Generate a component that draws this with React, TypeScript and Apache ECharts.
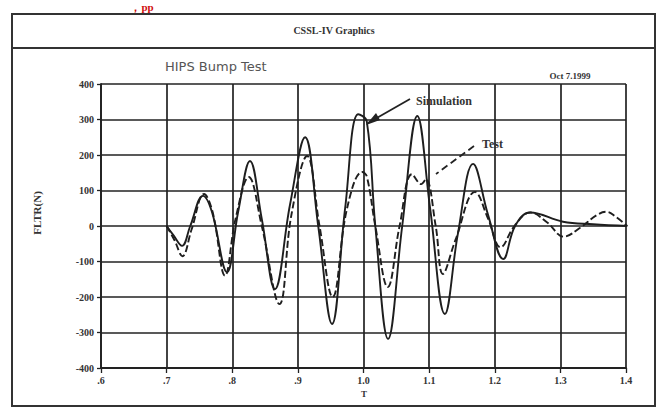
import React, { useEffect, useRef } from "react";
import * as echarts from "echarts";

const simT = [0.700, 0.710, 0.7235, 0.736, 0.7555, 0.769, 0.792, 0.809, 0.827, 0.845, 0.865, 0.888, 0.911, 0.931, 0.952, 0.972, 0.992, 1.005, 1.018, 1.0375, 1.059, 1.082, 1.1015, 1.124, 1.144, 1.167, 1.190, 1.213, 1.231, 1.254, 1.304, 1.350, 1.402];
const simV = [0, -25, -56, 0, 85, 40, -130, 40, 183, 20, -178, 60, 250, 0, -276, 50, 315, 295, 0, -318, 0, 310, 50, -248, -20, 175, 30, -93, 0, 38, 12, 5, 0];

const testT = [0.700, 0.712, 0.724, 0.738, 0.757, 0.770, 0.789, 0.805, 0.825, 0.845, 0.872, 0.890, 0.914, 0.933, 0.953, 0.975, 0.998, 1.005, 1.018, 1.037, 1.055, 1.074, 1.088, 1.095, 1.110, 1.121, 1.140, 1.170, 1.190, 1.209, 1.230, 1.254, 1.280, 1.305, 1.330, 1.355, 1.370, 1.385, 1.402];
const testV = [0, -40, -85, -10, 90, 40, -140, 20, 138, 0, -220, 30, 197, 0, -200, 50, 152, 140, 0, -172, 0, 146, 118, 132, 0, -135, -40, 96, 20, -60, 0, 38, 10, -30, -5, 30, 40, 25, 0];

const xTickLabels = [".6", ".7", ".8", ".9", "1.0", "1.1", "1.2", "1.3", "1.4"];
const yTicks = [-400, -300, -200, -100, 0, 100, 200, 300, 400];

export default function App() {
  const ref = useRef<HTMLDivElement>(null);
  useEffect(() => {
    const chart = echarts.init(ref.current!, null, { renderer: "svg" });
    const serif = "'Liberation Serif', 'DejaVu Serif', serif";
    chart.setOption({
      animation: false,
      backgroundColor: "#ffffff",
      grid: { left: 101, right: 38, top: 84, bottom: 42 },
      xAxis: {
        type: "value",
        min: 0.6,
        max: 1.4,
        interval: 0.1,
        axisLine: { onZero: false, lineStyle: { color: "#222", width: 1.8 } },
        axisTick: { show: true, length: 5, lineStyle: { color: "#222", width: 1.3 } },
        splitLine: { show: true, lineStyle: { color: "#222", width: 1.7 } },
        axisLabel: {
          color: "#333",
          fontFamily: serif,
          fontWeight: "bold",
          fontSize: 10,
          margin: 7,
          formatter: (v: number) => xTickLabels[Math.round((v - 0.6) * 10)] ?? "",
        },
      },
      yAxis: {
        type: "value",
        min: -400,
        max: 400,
        interval: 100,
        axisLine: { show: true, lineStyle: { color: "#222", width: 1.8 } },
        axisTick: { show: true, length: 4, lineStyle: { color: "#222", width: 1.3 } },
        splitLine: { show: true, lineStyle: { color: "#222", width: 1.7 } },
        axisLabel: {
          color: "#333",
          fontFamily: serif,
          fontWeight: "bold",
          fontSize: 10,
          margin: 7,
          formatter: (v: number) => (yTicks.includes(v) ? String(v) : ""),
        },
      },
      series: [
        {
          name: "Simulation",
          type: "line",
          smooth: 0.4,
          symbol: "none",
          data: simT.map((t, i) => [t, simV[i]]),
          lineStyle: { color: "#1e1e1e", width: 1.9 },
        },
        {
          name: "Test",
          type: "line",
          smooth: 0.4,
          symbol: "none",
          data: testT.map((t, i) => [t, testV[i]]),
          lineStyle: { color: "#1e1e1e", width: 1.9, type: [7, 3] },
        },
      ],
      graphic: [
        { type: "rect", shape: { x: 12, y: 14, width: 643, height: 392 }, style: { fill: "none", stroke: "#333", lineWidth: 2 }, z: 10 },
        { type: "line", shape: { x1: 12, y1: 48, x2: 655, y2: 48 }, style: { stroke: "#333", lineWidth: 2 }, z: 10 },
        { type: "text", x: 334, y: 30, style: { text: "CSSL-IV Graphics", fill: "#333", font: "bold 10px " + serif, textAlign: "center", textVerticalAlign: "middle" }, z: 10 },
        { type: "text", x: 142, y: 1, style: { text: "，pp", fill: "#d01010", font: "bold 11px " + serif, textAlign: "center", textVerticalAlign: "top" }, z: 10 },
        { type: "text", x: 165, y: 66, style: { text: "HIPS Bump Test", fill: "#555", font: "13px 'DejaVu Sans', sans-serif", textVerticalAlign: "middle" }, z: 10 },
        { type: "text", x: 570, y: 76, style: { text: "Oct 7.1999", fill: "#333", font: "bold 9px " + serif, textAlign: "center", textVerticalAlign: "middle" }, z: 10 },
        { type: "text", x: 37, y: 213, rotation: Math.PI / 2, style: { text: "FLTR(N)", fill: "#333", font: "bold 11px " + serif, textAlign: "center", textVerticalAlign: "middle" }, z: 10 },
        { type: "text", x: 364, y: 394, style: { text: "T", fill: "#333", font: "bold 9px " + serif, textAlign: "center", textVerticalAlign: "middle" }, z: 10 },
        { type: "text", x: 416, y: 101, style: { text: "Simulation", fill: "#333", font: "bold 12px " + serif, textVerticalAlign: "middle" }, z: 10 },
        { type: "line", shape: { x1: 410, y1: 99, x2: 368, y2: 123 }, style: { stroke: "#222", lineWidth: 1.8 }, z: 10 },
        { type: "polygon", shape: { points: [[366, 125], [376, 113], [380, 120]] }, style: { fill: "#222" }, z: 10 },
        { type: "text", x: 482, y: 144, style: { text: "Test", fill: "#333", font: "bold 12px " + serif, textVerticalAlign: "middle" }, z: 10 },
        { type: "line", shape: { x1: 474, y1: 146, x2: 436, y2: 174 }, style: { stroke: "#222", lineWidth: 1.8, lineDash: [7, 4] }, z: 10 },
      ],
    });
    return () => chart.dispose();
  }, []);
  return <div ref={ref} style={{ position: "absolute", left: 0, top: 0, width: 664, height: 410 }} />;
}
